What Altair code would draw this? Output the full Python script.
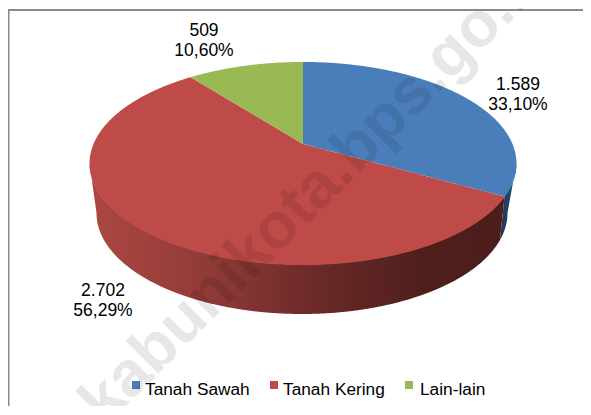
import altair as alt
import numpy as np
import pandas as pd

categories = ["Tanah Sawah", "Tanah Kering", "Lain-lain"]
hectares = [1589, 2702, 509]
count_labels = ["1.589", "2.702", "509"]
percent_labels = ["33,10%", "56,29%", "10,60%"]
percent_values = [33.10, 56.29, 10.60]
top_colors = ["#4a7ebb", "#be4b48", "#98b954"]
watermark_text = "kabunikota.bps.go.id"

W, H = 575, 398
PX, PY = 295, 136             # pie vertex inside the chart
K, A, B = 0.192, 209.5, 97.8  # perspective of the disc
RX_T, RY_T, CY_T = 213.5, 101.5, 19
RX_B, RY_B, CX_B, CY_B = 205.5, 101, -1, 69
LEAN = np.radians(3.7)


def disc(theta):
    d = 1 + K * np.cos(theta)
    return A * np.sin(theta) / d, -B * np.cos(theta) / d


def ell(t, rx, ry, cx, cy):
    return cx + rx * np.sin(t), cy - ry * np.cos(t)


def band(px, py, series):
    """Turn a closed x-monotone outline into rows of x, upper y, lower y."""
    px, py = np.asarray(px), np.asarray(py)
    xs = np.unique(np.round(np.concatenate([px, np.arange(px.min(), px.max(), 1.0), [px.max()]]), 3))
    qx, qy = np.roll(px, -1), np.roll(py, -1)
    rows = []
    for x in xs:
        lo, hi = np.inf, -np.inf
        for a, b, c, d in zip(px, py, qx, qy):
            if min(a, c) - 1e-6 <= x <= max(a, c) + 1e-6:
                ys = [b, d] if abs(c - a) < 1e-9 else [b + (d - b) * (x - a) / (c - a)]
                lo, hi = min(lo, *ys), max(hi, *ys)
        rows.append({"x": x, "y": lo, "y2": hi, "slice": series})
    return rows


fractions = np.array(percent_values) / sum(percent_values)
edges = np.concatenate([[0], np.cumsum(fractions)]) * 2 * np.pi

top_rows = []
for i, name in enumerate(categories):
    th = np.linspace(edges[i], edges[i + 1], 240)
    gx, gy = disc(th)
    top_rows += band(np.r_[0, gx], np.r_[0, gy], name)
top = pd.DataFrame(top_rows)

# angle on the fitted ellipse where Tanah Sawah ends
ex, ey = disc(edges[1])
t_end = np.arctan2(ex / RX_T, -(ey - CY_T) / RY_T)


def wall(t_from, t_to, lean_from, lean_to, name):
    tx, ty = ell(np.linspace(t_from, t_to, 200), RX_T, RY_T, 0, CY_T)
    bx, by = ell(np.linspace(t_from - lean_from, t_to - lean_to, 200), RX_B, RY_B, CX_B, CY_B)
    return pd.DataFrame(band(np.r_[tx, bx[::-1]], np.r_[ty, by[::-1]], name))


wall_blue = wall(np.pi / 2, t_end, 0, LEAN, categories[0])
wall_red = wall(t_end, 1.5 * np.pi, LEAN, 0, categories[1])

xs = alt.Scale(domain=[-PX, W - PX], nice=False, zero=False)
ys = alt.Scale(domain=[H - PY, -PY], nice=False, zero=False)
X = alt.X("x:Q", scale=xs, axis=None)
Y = alt.Y("y:Q", scale=ys, axis=None, stack=None)
FONT = "Liberation Sans"


def grad(stops):
    return alt.Gradient(gradient="linear", x1=0, x2=1, y1=0, y2=0,
                        stops=[alt.GradientStop(offset=o, color=c) for o, c in stops])


blue_side = alt.Chart(wall_blue).mark_area(color=grad([(0, "#1b3552"), (1, "#2c5078")])).encode(X, Y, y2="y2:Q")
red_side = alt.Chart(wall_red).mark_area(
    color=grad([(0, "#ad4743"), (0.3, "#8e3a37"), (0.55, "#6a2a28"), (0.8, "#4f1f1c"), (1, "#4c1d1b")])
).encode(X, Y, y2="y2:Q")

color = alt.Color("slice:N", scale=alt.Scale(domain=categories, range=top_colors), legend=None)
faces = alt.Chart(top).mark_area(strokeWidth=0).encode(X, Y, y2="y2:Q", color=color)

labels = pd.DataFrame({
    "x": [215, -200, -99],
    "y1": [-54, 152, -108],
    "y2": [-34, 172, -88],
    "line1": count_labels,
    "line2": percent_labels,
})
label_style = dict(font=FONT, fontSize=17.5, color="#000000", align="center", baseline="alphabetic")
label1 = alt.Chart(labels).mark_text(**label_style).encode(X, alt.Y("y1:Q", scale=ys, axis=None), text="line1:N")
label2 = alt.Chart(labels).mark_text(**label_style).encode(X, alt.Y("y2:Q", scale=ys, axis=None), text="line2:N")

legend_df = pd.DataFrame({
    "slice": categories,
    "x": [-167, -29, 106],
    "tx": [-158, -20, 117],
    "y": [241, 241, 241],
    "ty": [251, 251, 251],
})
legend_sq = alt.Chart(legend_df).mark_square(size=64, opacity=1).encode(
    X, alt.Y("y:Q", scale=ys, axis=None), color=color)
legend_tx = alt.Chart(legend_df).mark_text(font=FONT, fontSize=17.3, color="#000000", align="left", baseline="alphabetic").encode(
    alt.X("tx:Q", scale=xs, axis=None), alt.Y("ty:Q", scale=ys, axis=None), text="slice:N")

mark = pd.DataFrame({"x": [-198], "y": [283], "t": [watermark_text]})
watermark = alt.Chart(mark).mark_text(font=FONT, fontWeight="bold", fontSize=64, angle=315,
                                      color="#000000", opacity=0.09, align="left", baseline="alphabetic").encode(
    X, alt.Y("y:Q", scale=ys, axis=None), text="t:N")

top_border = alt.Chart(pd.DataFrame({"a": [0]})).mark_rule(color="#8a8a8a", strokeWidth=2).encode(
    x=alt.value(0), x2=alt.value(W), y=alt.value(2))
left_border = alt.Chart(pd.DataFrame({"a": [0]})).mark_rule(color="#8a8a8a", strokeWidth=1.5).encode(
    x=alt.value(0.75), y=alt.value(1), y2=alt.value(H))

chart = alt.layer(
    top_border, left_border, blue_side, red_side, faces, label1, label2, legend_sq, legend_tx, watermark
).properties(
    width=W, height=H, padding=0, autosize=alt.AutoSizeParams(type="none"), background="#ffffff",
).configure_view(strokeWidth=0)

chart.save("out.html", embed_options={"renderer": "svg", "actions": False})
